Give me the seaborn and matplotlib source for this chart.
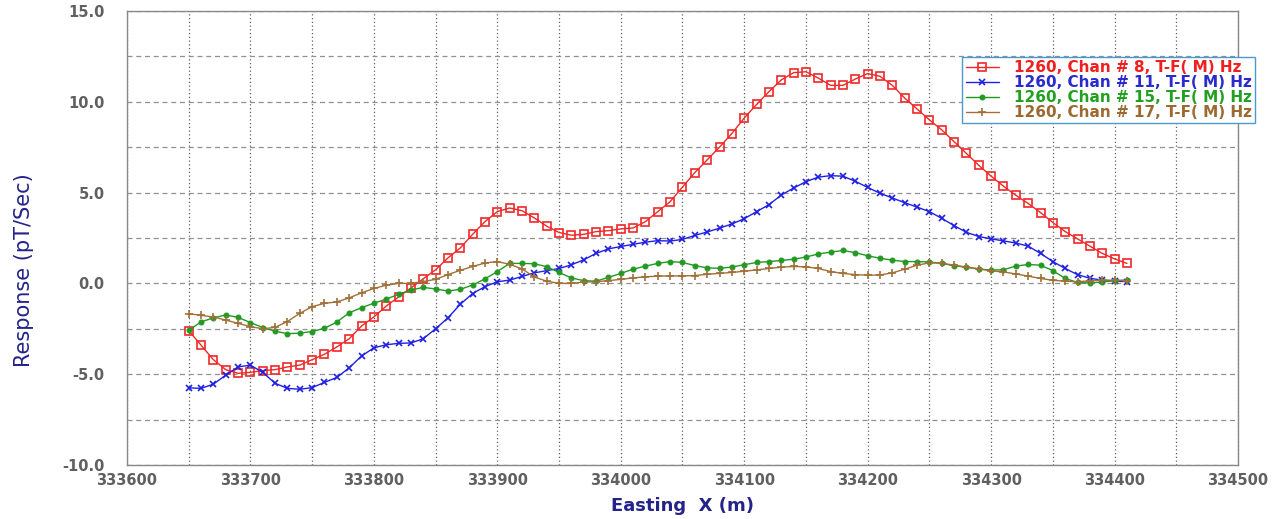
import matplotlib
matplotlib.use("Agg")
import matplotlib.pyplot as plt
from matplotlib.lines import Line2D
from matplotlib.ticker import MultipleLocator, FuncFormatter
import seaborn as sns

# Easting positions (m) and responses (pT/Sec)
easting = list(range(333650, 334411, 10))

chan8 = [-2.6, -3.4, -4.2, -4.75, -4.95, -4.9, -4.8, -4.75, -4.6, -4.5, -4.2, -3.9, -3.5,
         -3.05, -2.35, -1.85, -1.25, -0.75, -0.25, 0.25, 0.75, 1.4, 1.95, 2.7, 3.4, 3.95,
         4.15, 4.0, 3.6, 3.15, 2.8, 2.65, 2.7, 2.85, 2.9, 3.0, 3.05, 3.4, 3.95,
         4.5, 5.3, 6.1, 6.8, 7.5, 8.25, 9.1, 9.85, 10.55, 11.2, 11.6, 11.65, 11.3,
         10.9, 10.9, 11.25, 11.55, 11.4, 10.9, 10.2, 9.6, 9.0, 8.45, 7.8, 7.15, 6.5,
         5.9, 5.35, 4.85, 4.4, 3.9, 3.35, 2.85, 2.45, 2.05, 1.65, 1.35, 1.1]

chan11 = [-5.75, -5.78, -5.55, -5.05, -4.6, -4.5, -4.9, -5.5, -5.78, -5.83, -5.74, -5.45, -5.18,
          -4.65, -4.0, -3.55, -3.38, -3.3, -3.28, -3.05, -2.5, -1.9, -1.15, -0.56, -0.18, 0.09,
          0.18, 0.38, 0.58, 0.7, 0.82, 1.02, 1.3, 1.65, 1.9, 2.03, 2.15, 2.27, 2.35,
          2.33, 2.42, 2.64, 2.83, 3.04, 3.27, 3.56, 3.95, 4.33, 4.86, 5.25, 5.6, 5.85,
          5.93, 5.9, 5.62, 5.28, 4.96, 4.7, 4.44, 4.2, 3.95, 3.58, 3.18, 2.81, 2.58,
          2.45, 2.34, 2.22, 2.05, 1.65, 1.2, 0.82, 0.48, 0.28, 0.18, 0.13, 0.09]

chan15 = [-2.59, -2.12, -1.9, -1.74, -1.87, -2.16, -2.43, -2.63, -2.77, -2.74, -2.65, -2.47, -2.13,
          -1.62, -1.34, -1.09, -0.87, -0.6, -0.37, -0.22, -0.31, -0.42, -0.33, -0.09, 0.25, 0.65,
          1.1, 1.1, 1.08, 0.92, 0.6, 0.3, 0.15, 0.12, 0.33, 0.55, 0.78, 0.95, 1.1,
          1.2, 1.15, 0.98, 0.85, 0.83, 0.9, 1.03, 1.15, 1.2, 1.26, 1.33, 1.45, 1.62,
          1.72, 1.81, 1.69, 1.52, 1.38, 1.28, 1.2, 1.2, 1.18, 1.1, 0.97, 0.89, 0.79,
          0.73, 0.75, 0.95, 1.04, 1.0, 0.7, 0.27, 0.05, 0.02, 0.08, 0.15, 0.18]

chan17 = [-1.67, -1.76, -1.85, -2.02, -2.2, -2.38, -2.5, -2.42, -2.1, -1.65, -1.28, -1.1, -1.02,
          -0.8, -0.52, -0.28, -0.1, 0.0, 0.0, 0.1, 0.22, 0.48, 0.72, 0.93, 1.12, 1.2,
          1.05, 0.8, 0.35, 0.12, 0.0, 0.0, 0.07, 0.09, 0.15, 0.22, 0.3, 0.36, 0.4,
          0.41, 0.41, 0.43, 0.5, 0.55, 0.6, 0.67, 0.74, 0.82, 0.89, 0.93, 0.91, 0.82,
          0.65, 0.55, 0.48, 0.45, 0.46, 0.58, 0.78, 1.0, 1.13, 1.11, 1.0, 0.9, 0.8,
          0.69, 0.63, 0.52, 0.4, 0.27, 0.17, 0.12, 0.09, 0.14, 0.18, 0.17, 0.15]

labels = ["1260, Chan # 8, T-F( M) Hz", "1260, Chan # 11, T-F( M) Hz",
          "1260, Chan # 15, T-F( M) Hz", "1260, Chan # 17, T-F( M) Hz"]
colors = ["#f02828", "#2020e0", "#229922", "#a07038"]
text_colors = ["#f02020", "#2a2ad0", "#22a022", "#9a6a30"]

sns.set_style("white")
plt.rcParams["font.family"] = ["DejaVu Sans"]

fig = plt.figure(figsize=(12.72, 5.19), dpi=100)
ax = fig.add_axes([0.0998, 0.104, 0.8735, 0.875])

styles = [
    dict(marker="s", markersize=5.5, mfc="none", mew=1.2),
    dict(marker="x", markersize=5, mew=1.2),
    dict(marker="o", markersize=3.5, mew=0.8),
    dict(marker="+", markersize=6, mew=1.2),
]
series = [chan8, chan11, chan15, chan17]
for vals, col, st in zip(series, colors, styles):
    sns.lineplot(x=easting, y=vals, ax=ax, color=col, linewidth=1.0,
                 mec=col, legend=False, **st)

ax.set_xlim(333600, 334500)
ax.set_ylim(-10, 15)
ax.xaxis.set_major_locator(MultipleLocator(100))
ax.xaxis.set_minor_locator(MultipleLocator(50))
ax.yaxis.set_major_locator(MultipleLocator(5))
ax.yaxis.set_minor_locator(MultipleLocator(2.5))
ax.xaxis.set_major_formatter(FuncFormatter(lambda v, p: f"{v:.0f}"))
ax.yaxis.set_major_formatter(FuncFormatter(lambda v, p: f"{v:.1f}"))

ax.grid(True, axis="x", which="both", linestyle=(0, (1, 2)), color="#606060", linewidth=0.9)
ax.grid(True, axis="y", which="both", linestyle=(0, (4, 3)), color="#909090", linewidth=0.9)
ax.set_axisbelow(True)

ax.tick_params(axis="x", which="both", direction="in", length=5, color="#777777",
               labelsize=10.5, labelcolor="#606060", pad=6)
ax.tick_params(axis="y", which="both", length=0, labelsize=10.5, labelcolor="#606060", pad=16)
for lbl in ax.get_xticklabels() + ax.get_yticklabels():
    lbl.set_fontweight("bold")

for sp in ax.spines.values():
    sp.set_color("#888888")
    sp.set_linewidth(1.0)

ax.set_xlabel("Easting  X (m)", fontsize=13, fontweight="bold", color="#23238a", labelpad=6)
ax.set_ylabel("Response (pT/Sec)", fontsize=15, color="#23238a")
ax.yaxis.set_label_coords(-0.084, 0.43)

handles = [Line2D([0], [0], color=c, linewidth=1.0, mec=c, **st) for c, st in zip(colors, styles)]
leg = ax.legend(handles, labels, loc="upper left", bbox_to_anchor=(0.752, 0.898),
                frameon=True, fancybox=False, framealpha=1, edgecolor="#4a9ad0",
                fontsize=11, handlelength=2.2, handletextpad=1.0, borderpad=0.2,
                labelspacing=0.0, borderaxespad=0)
leg.get_frame().set_linewidth(1.0)
for txt, tc in zip(leg.get_texts(), text_colors):
    txt.set_color(tc)
    txt.set_fontweight("bold")

fig.savefig("out.png", dpi=100)
